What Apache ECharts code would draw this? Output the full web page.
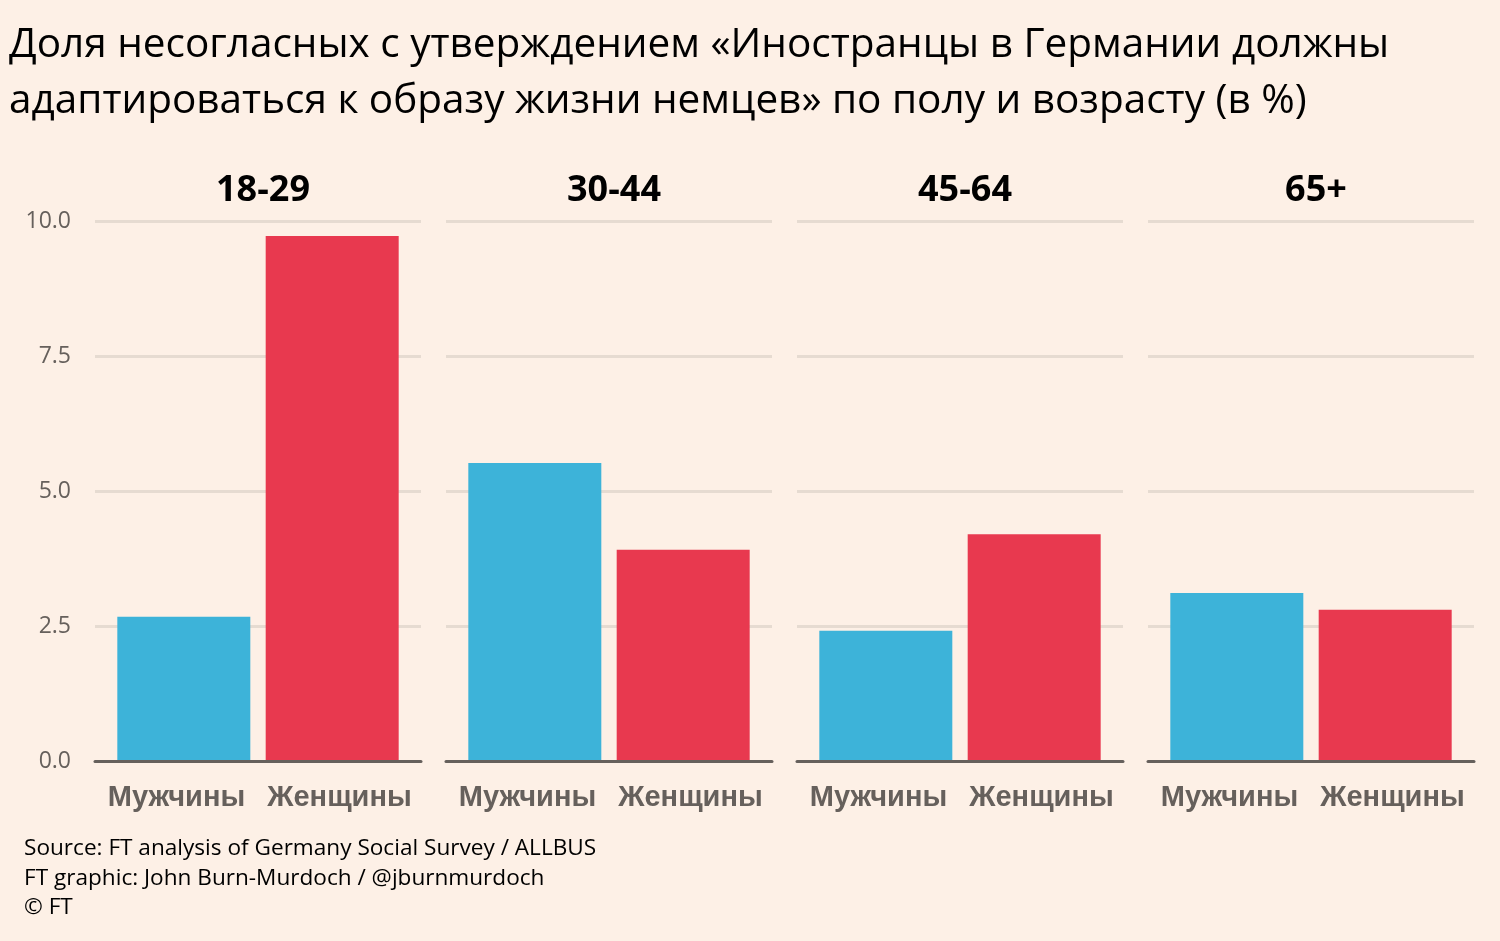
<!DOCTYPE html>
<html>
<head>
<meta charset="utf-8">
<script src="https://cdn.jsdelivr.net/npm/echarts@6/dist/echarts.min.js"></script>
<style>
  html, body { margin: 0; padding: 0; background: #fdf0e6; }
  #chart { width: 1500px; height: 941px; }
</style>
</head>
<body>
<div id="chart"></div>
<script>
// Data (share disagreeing, %)
const ageGroups = ['18-29', '30-44', '45-64', '65+'];
const sexes = ['Мужчины', 'Женщины'];
const menValues = [2.67, 5.52, 2.41, 3.11];
const womenValues = [9.72, 3.91, 4.20, 2.80];
const yTicks = [0, 2.5, 5, 7.5, 10];

const chart = echarts.init(document.getElementById('chart'), null, { renderer: 'canvas' });

// panel edges in pixels
const panelLeft = [95, 446, 797, 1148];
const panelWidth = 326;
const gridTop = 221;
const gridBottom = 941 - 761;

const grids = [], xAxes = [], yAxes = [], series = [], titles = [];

ageGroups.forEach((age, i) => {
    grids.push({ left: panelLeft[i], width: panelWidth, top: gridTop, bottom: gridBottom });
    xAxes.push({
        type: 'category',
        gridIndex: i,
        data: sexes,
        axisTick: { show: false },
        axisLine: { show: true, lineStyle: { color: '#66605c', width: 3 } },
        axisLabel: {
            interval: 0,
            color: '#66605c', fontSize: 29, fontWeight: 'bold',
            fontFamily: '"Liberation Sans", Arial, sans-serif', margin: 22
        },
        z: 5
    });
    yAxes.push({
        type: 'value',
        gridIndex: i,
        min: yTicks[0], max: yTicks[yTicks.length - 1], interval: 2.5,
        axisLine: { show: false },
        axisTick: { show: false },
        splitLine: { lineStyle: { color: '#e6dbd1', width: 3 } },
        axisLabel: {
            show: i === 0,
            color: '#66605c', fontSize: 23, fontFamily: 'Open Sans', margin: 24,
            formatter: v => v.toFixed(1)
        }
    });
    series.push({
        type: 'bar', xAxisIndex: i, yAxisIndex: i,
        data: [menValues[i], '-'],
        barWidth: 133, barGap: '-111%',
        itemStyle: { color: '#3db3d9' },
        silent: true
    });
    series.push({
        type: 'bar', xAxisIndex: i, yAxisIndex: i,
        data: ['-', womenValues[i]],
        barWidth: 133, barGap: '-111%',
        itemStyle: { color: '#e8394f' },
        silent: true
    });
    titles.push({
        text: age,
        left: panelLeft[i] + panelWidth / 2,
        top: 168,
        textAlign: 'center',
        textStyle: { color: '#000', fontSize: 36, fontWeight: 'bold', fontFamily: 'Open Sans' }
    });
});

titles.push({
    text: 'Доля несогласных с утверждением «Иностранцы в Германии должны\nадаптироваться к образу жизни немцев» по полу и возрасту (в %)',
    left: 4, top: 12,
    textStyle: { color: '#000', fontSize: 40.5, fontWeight: 'normal', fontFamily: 'Open Sans', lineHeight: 56 }
});
titles.push({
    text: 'Source: FT analysis of Germany Social Survey / ALLBUS\nFT graphic: John Burn-Murdoch / @jburnmurdoch\n© FT',
    left: 19, top: 829,
    textStyle: { color: '#000', fontSize: 22.6, fontWeight: 'normal', fontFamily: 'Open Sans', lineHeight: 29.5 }
});

chart.setOption({
    backgroundColor: '#fdf0e6',
    animation: false,
    title: titles,
    grid: grids,
    xAxis: xAxes,
    yAxis: yAxes,
    series: series
});
</script>
</body>
</html>
